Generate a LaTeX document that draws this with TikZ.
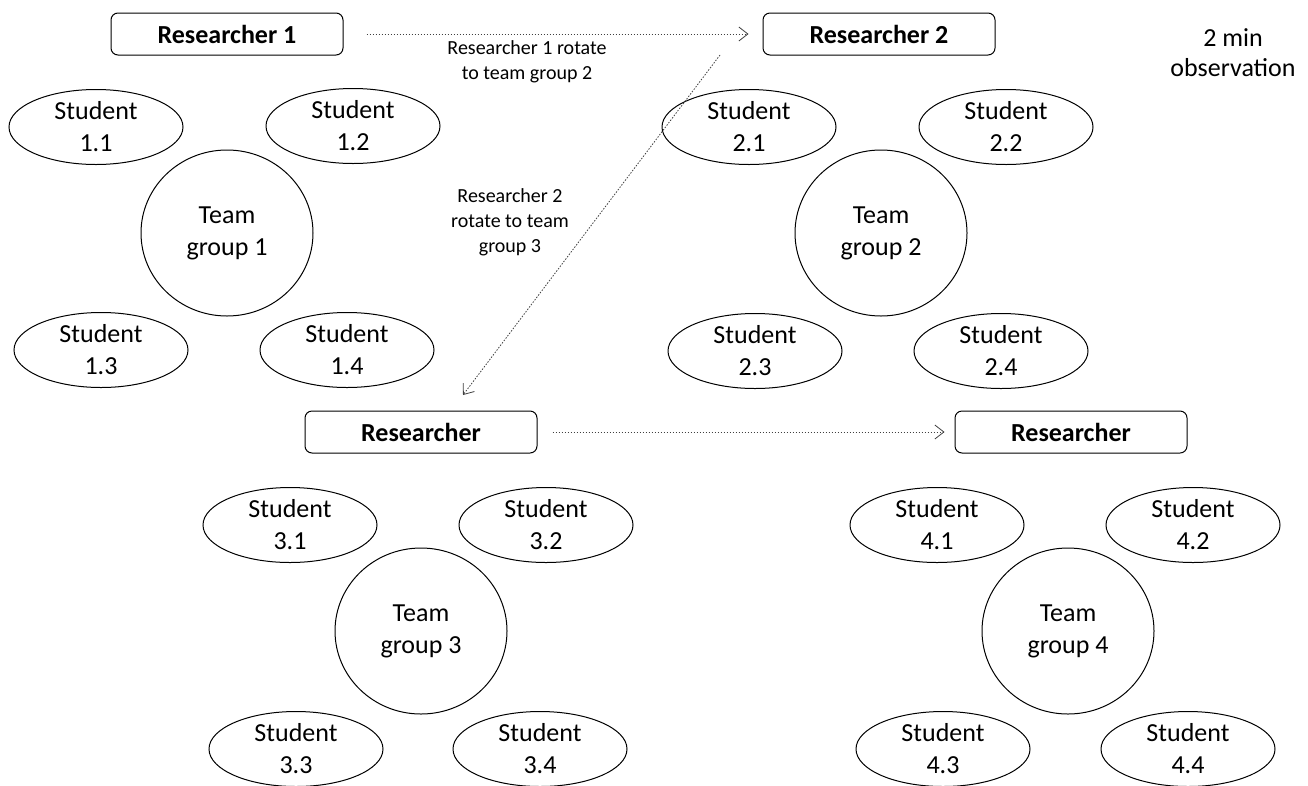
\documentclass[tikz,border=0pt]{standalone}
\usepackage{fontspec}
\setmainfont{Carlito}
\usetikzlibrary{arrows.meta,shapes.geometric,calc}
\begin{document}
\begin{tikzpicture}[x=1pt,y=-1pt,
  rbox/.style={draw,line width=1pt,rounded corners=7pt,minimum width=232pt,minimum height=42pt,inner sep=0pt,font=\fontsize{26}{30}\selectfont\bfseries},
  student/.style={draw,line width=1pt,ellipse,minimum width=174pt,minimum height=75pt,inner sep=0pt,align=center,font=\fontsize{26}{32}\selectfont},
  team/.style={draw,line width=1pt,ellipse,minimum width=172pt,minimum height=166pt,inner sep=0pt,align=center,font=\fontsize{26}{32}\selectfont},
  lbl/.style={align=center,font=\fontsize{20}{25}\selectfont},
  mv/.style={draw=black!75,line width=0.8pt,dash pattern=on 1.5pt off 1.5pt,-{Straight Barb[length=9pt,width=14pt,line width=0.8pt]}}
]
\useasboundingbox (0,0) rectangle (1308,785);
% group 1
\node[rbox] (r1) at (227,34) {Researcher 1};
\node[student] (s11) at (96,127) {Student\\1.1};
\node[student] (s12) at (353,126) {Student\\1.2};
\node[team] (t1) at (227,233) {Team\\group 1};
\node[student] (s13) at (101,350) {Student\\1.3};
\node[student] (s14) at (347,350) {Student\\1.4};
% group 2
\node[rbox] (r2) at (879,34) {Researcher 2};
\node[student] (s21) at (749,127) {Student\\2.1};
\node[student] (s22) at (1006,127) {Student\\2.2};
\node[team] (t2) at (881,233) {Team\\group 2};
\node[student] (s23) at (755,351) {Student\\2.3};
\node[student] (s24) at (1001,351) {Student\\2.4};
% group 3
\node[rbox] (r3) at (421,432) {Researcher};
\node[student] (s31) at (290,525) {Student\\3.1};
\node[student] (s32) at (546,525) {Student\\3.2};
\node[team] (t3) at (421,631) {Team\\group 3};
\node[student] (s33) at (296,749) {Student\\3.3};
\node[student] (s34) at (540,749) {Student\\3.4};
% group 4
\node[rbox] (r4) at (1071,432) {Researcher};
\node[student] (s41) at (937,525) {Student\\4.1};
\node[student] (s42) at (1193,525) {Student\\4.2};
\node[team] (t4) at (1068,631) {Team\\group 4};
\node[student] (s43) at (943,749) {Student\\4.3};
\node[student] (s44) at (1188,749) {Student\\4.4};
% labels
\node[align=center,font=\fontsize{26}{30}\selectfont] (obs) at (1233,53) {2 min\\observation};
\node[lbl] (l1) at (527,62) {Researcher 1 rotate\\to team group 2};
\node[lbl] (l2) at (510,222) {Researcher 2\\rotate to team\\group 3};
% arrows
\coordinate (d1) at (720,55);
\coordinate (d2) at (463,395);
\draw[mv,shorten <=23pt,shorten >=14pt] (r1.east) -- (r2.west);
\draw[mv] (d1) -- (d2);
\draw[mv,shorten <=15pt,shorten >=10pt] (r3.east) -- (r4.west);
\end{tikzpicture}
\end{document}
